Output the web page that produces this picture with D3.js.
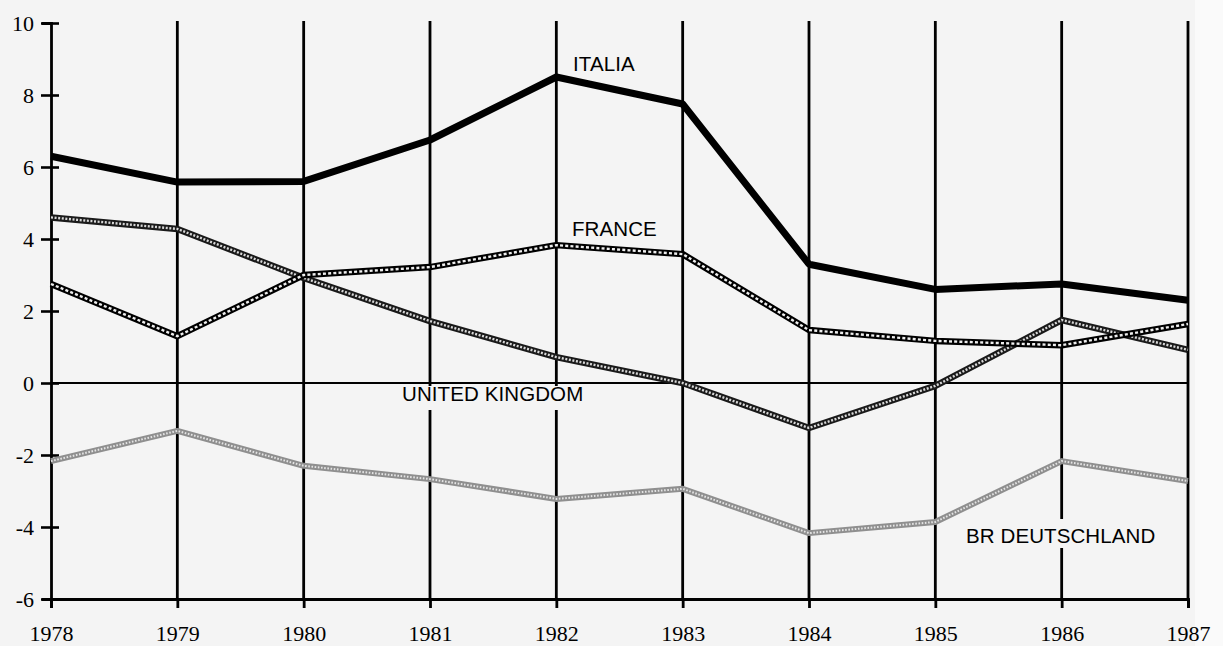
<!DOCTYPE html>
<html><head><meta charset="utf-8">
<script src="https://cdn.jsdelivr.net/npm/d3@7"></script>
<style>html,body{margin:0;padding:0;background:#fff;}svg{display:block;}</style>
</head><body>
<script>
const years = [1978,1979,1980,1981,1982,1983,1984,1985,1986,1987];
const italia = [6.3,5.58,5.6,6.75,8.5,7.75,3.3,2.6,2.75,2.3];
const france = [2.75,1.3,3.0,3.22,3.83,3.58,1.47,1.17,1.05,1.64];
const unitedKingdom = [4.6,4.28,2.92,1.72,0.72,0.0,-1.25,-0.08,1.75,0.92];
const deutschland = [-2.17,-1.33,-2.3,-2.67,-3.22,-2.94,-4.17,-3.86,-2.17,-2.72];
const yTicks = [10,8,6,4,2,0,-2,-4,-6];

const W = 1223, H = 646;
const svg = d3.select("body").append("svg").attr("width", W).attr("height", H);
svg.append("rect").attr("x",0).attr("y",0).attr("width",W).attr("height",H).attr("fill","#f4f4f4");
svg.append("rect").attr("x",1195).attr("y",0).attr("width",28).attr("height",H).attr("fill","#fafafa");

const x = d3.scaleLinear().domain([1978,1987]).range([51,1188]);
const y = d3.scaleLinear().domain([-6,10]).range([599,23]);

// vertical year lines
svg.append("g").selectAll("line").data(years.slice(1)).join("line")
  .attr("x1", d=>x(d)).attr("x2", d=>x(d)).attr("y1", 21).attr("y2", y(-6))
  .attr("stroke","#000").attr("stroke-width",2.8);

// zero line
svg.append("line").attr("x1",x(1978)).attr("x2",x(1987)).attr("y1",y(0)).attr("y2",y(0))
  .attr("stroke","#000").attr("stroke-width",1.8);

// left axis
const yAxis = d3.axisLeft(y).tickValues(yTicks).tickSize(9).tickPadding(16).tickFormat(d => String(d));
const gy = svg.append("g").attr("transform",`translate(${x(1978)},0)`).call(yAxis);
gy.attr("font-size",null).attr("font-family",null);
gy.select(".domain").attr("stroke","#000").attr("stroke-width",2.8);
gy.selectAll(".tick line").attr("stroke","#000").attr("stroke-width",2.6).attr("x2",8).attr("x1",-10);
gy.selectAll(".tick text").style("font-family","'Liberation Serif', serif").style("font-size","22px").attr("fill","#000").attr("x",-17);

// bottom axis
const xAxis = d3.axisBottom(x).tickValues(years).tickSize(9).tickPadding(16).tickFormat(d => String(d));
const gx = svg.append("g").attr("transform",`translate(0,${y(-6)})`).call(xAxis);
gx.attr("font-size",null).attr("font-family",null);
gx.select(".domain").attr("stroke","#000").attr("stroke-width",2.8);
gx.selectAll(".tick line").attr("stroke","#000").attr("stroke-width",2.8);
gx.selectAll(".tick text").style("font-family","'Liberation Serif', serif").style("font-size","22px").attr("fill","#000").attr("dy","0.75em");

const line = d3.line().x((d,i)=>x(years[i])).y(d=>y(d));

// label background gaps
function gap(x0,y0,w,h){svg.append("rect").attr("x",x0).attr("y",y0).attr("width",w).attr("height",h).attr("fill","#f4f4f4");}
gap(400,386,186,24);
gap(963,519,198,29);

// BR Deutschland (light hatched)
svg.append("path").datum(deutschland).attr("d",line).attr("fill","none").attr("stroke","#8f8f8f").attr("stroke-width",6).attr("stroke-linejoin","round");
svg.append("path").datum(deutschland).attr("d",line).attr("fill","none").attr("stroke","#e4e4e4").attr("stroke-width",2).attr("stroke-dasharray","1.6,1.6");

// United Kingdom (dense hatched)
svg.append("path").datum(unitedKingdom).attr("d",line).attr("fill","none").attr("stroke","#1a1a1a").attr("stroke-width",6.5).attr("stroke-linejoin","round");
svg.append("path").datum(unitedKingdom).attr("d",line).attr("fill","none").attr("stroke","#d8d8d8").attr("stroke-width",2.4).attr("stroke-dasharray","2,1.6");

// France (chain)
svg.append("path").datum(france).attr("d",line).attr("fill","none").attr("stroke","#000").attr("stroke-width",6.5).attr("stroke-linejoin","round");
svg.append("path").datum(france).attr("d",line).attr("fill","none").attr("stroke","#eee").attr("stroke-width",2.4).attr("stroke-dasharray","3,2.2");

// Italia (thick solid)
svg.append("path").datum(italia).attr("d",line).attr("fill","none").attr("stroke","#000").attr("stroke-width",7).attr("stroke-linejoin","round");

// labels
const labels = [
  {t:"ITALIA", x:573, y:71},
  {t:"FRANCE", x:572, y:236},
  {t:"UNITED KINGDOM", x:402, y:401},
  {t:"BR DEUTSCHLAND", x:966, y:543}
];
svg.append("g").selectAll("text").data(labels).join("text")
  .attr("x",d=>d.x).attr("y",d=>d.y).text(d=>d.t)
  .style("font-family","'Liberation Sans', Arial, sans-serif").style("font-size","20.5px")
  .attr("letter-spacing",0.1).attr("fill","#000");
</script>
</body></html>
